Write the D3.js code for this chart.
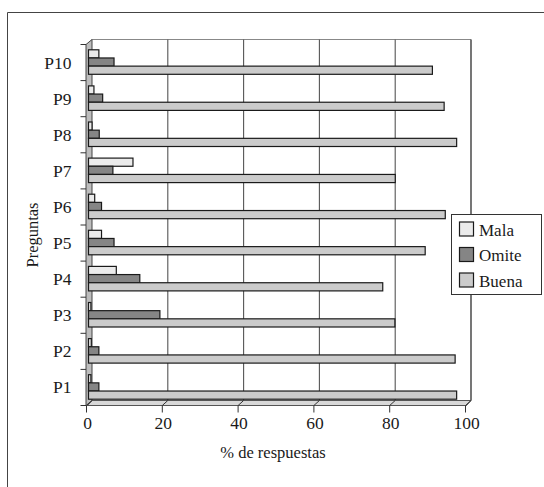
<!DOCTYPE html>
<html><head><meta charset="utf-8">
<script src="https://cdn.jsdelivr.net/npm/d3@7"></script>
<style>body{margin:0;background:#fff}svg{display:block}</style>
</head><body>
<script>
const categories = ["P1","P2","P3","P4","P5","P6","P7","P8","P9","P10"];
const seriesNames = ["Mala","Omite","Buena"];
const mala  = [0.9, 1.0, 0.9, 7.6, 3.7, 1.9, 12.0, 1.2, 1.7, 3.0];
const omite = [3.0, 3.0, 19.1, 13.8, 7.0, 3.7, 6.7, 3.1, 4.0, 7.0];
const buena = [97.4, 97.0, 81.1, 77.9, 89.1, 94.4, 81.2, 97.4, 94.1, 91.0];
const xTicks = [0, 20, 40, 60, 80, 100];
const colors = {"Mala":"#ebebeb","Omite":"#858585","Buena":"#cbcbcb"};
const values = {"Mala":mala,"Omite":omite,"Buena":buena};

const W = 544, H = 487;
const svg = d3.select("body").append("svg").attr("width", W).attr("height", H);
const font = "'Liberation Serif','Times New Roman',serif";

// 3D depth offset
const DX = 4.5, DY = -5;

const x = d3.scaleLinear().domain([0,100]).range([87.5, 466.5]);
const y = d3.scaleBand().domain(categories.slice().reverse()).range([44.5, 405.5]);
const ySub = d3.scaleBand().domain(seriesNames).range([5.3, 29.8]);

// outer frame
svg.append("path").attr("d", `M7.5,${H} V12.5 H${W}`).attr("fill","none").attr("stroke","#444").attr("stroke-width",1);

const x0 = x(0), x1 = x(100), yTop = y.range()[0], yBot = y.range()[1];

// floor
svg.append("path")
  .attr("d", `M${x0},${yBot} L${x0+DX},${yBot+DY} L${x1+DX},${yBot+DY} L${x1},${yBot} Z`)
  .attr("fill","#d8d8d8").attr("stroke","#555").attr("stroke-width",1);

// back plane borders
svg.append("path")
  .attr("d", `M${x0+DX},${yTop+DY} H${x1+DX} V${yBot+DY}`)
  .attr("fill","none").attr("stroke","#888").attr("stroke-width",1);
svg.append("line").attr("x1",x1+DX).attr("x2",x1+DX).attr("y1",yTop+DY).attr("y2",yBot+DY)
  .attr("stroke","#444").attr("stroke-width",1.2);

// gridlines on back wall
svg.selectAll("line.grid").data(xTicks.filter(t => t>0 && t<100)).enter().append("line")
  .attr("class","grid")
  .attr("x1", d => x(d)+DX).attr("x2", d => x(d)+DX)
  .attr("y1", yTop+DY).attr("y2", yBot+DY)
  .attr("stroke","#555").attr("stroke-width",1.1);

// left wall
svg.append("path")
  .attr("d", `M${x0-1.5},${yTop} L${x0+DX},${yTop+DY} L${x0+DX},${yBot+DY} L${x0-1.5},${yBot} Z`)
  .attr("fill","#bdbdbd").attr("stroke","#444").attr("stroke-width",1);

// bars
categories.forEach((c, i) => {
  seriesNames.forEach(s => {
    svg.append("rect")
      .attr("x", x(0)+1)
      .attr("y", y(c) + ySub(s))
      .attr("width", x(values[s][i]) - x(0) - 1)
      .attr("height", ySub.bandwidth())
      .attr("fill", colors[s]).attr("stroke","#1a1a1a").attr("stroke-width",1.2);
  });
});

// front floor edge
svg.append("line").attr("x1",x0-1.5).attr("x2",x1).attr("y1",yBot).attr("y2",yBot)
  .attr("stroke","#555").attr("stroke-width",1);

// x ticks: diagonal from back gridline to front, then down
svg.selectAll("path.xtick").data(xTicks).enter().append("path")
  .attr("class","xtick")
  .attr("d", d => `M${x(d)+DX},${yBot+DY} L${x(d)-1},${yBot} V${yBot+7}`)
  .attr("fill","none").attr("stroke","#333").attr("stroke-width",1);

svg.selectAll("text.xl").data(xTicks).enter().append("text")
  .attr("class","xl")
  .attr("x", d => x(d)).attr("y", yBot+23)
  .attr("text-anchor","middle")
  .attr("font-family",font).attr("font-size",17.5).attr("fill","#1a1a1a")
  .text(d => d);

// y ticks at band boundaries
const yBounds = categories.map(c => y(c)).concat([yBot]);
svg.selectAll("line.ytick").data(yBounds).enter().append("line")
  .attr("class","ytick")
  .attr("x1", x0-7).attr("x2", x0-1.5).attr("y1", d => d).attr("y2", d => d)
  .attr("stroke","#333").attr("stroke-width",1);

svg.selectAll("text.yl").data(categories).enter().append("text")
  .attr("class","yl")
  .attr("x", 71.5).attr("y", d => y(d) + y.bandwidth()/2 + 6)
  .attr("text-anchor","end")
  .attr("font-family",font).attr("font-size",17.5).attr("fill","#1a1a1a")
  .text(d => d);

// axis titles
svg.append("text").attr("x", 273).attr("y", 458).attr("text-anchor","middle")
  .attr("font-family",font).attr("font-size",16.5).attr("fill","#1a1a1a").text("% de respuestas");
svg.append("text").attr("transform","translate(38,235) rotate(-90)").attr("text-anchor","middle")
  .attr("font-family",font).attr("font-size",16.5).attr("fill","#1a1a1a").text("Preguntas");

// legend
const lg = svg.append("g");
lg.append("rect").attr("x",451.5).attr("y",214.5).attr("width",90).attr("height",80)
  .attr("fill","#fff").attr("stroke","#333").attr("stroke-width",1);
seriesNames.forEach((s, i) => {
  lg.append("rect").attr("x",459.5).attr("y",222 + i*25.5).attr("width",14).attr("height",14)
    .attr("fill",colors[s]).attr("stroke","#1a1a1a").attr("stroke-width",1.2);
  lg.append("text").attr("x",479).attr("y",235.5 + i*25.5)
    .attr("font-family",font).attr("font-size",17).attr("fill","#1a1a1a").text(s);
});
</script>
</body></html>
